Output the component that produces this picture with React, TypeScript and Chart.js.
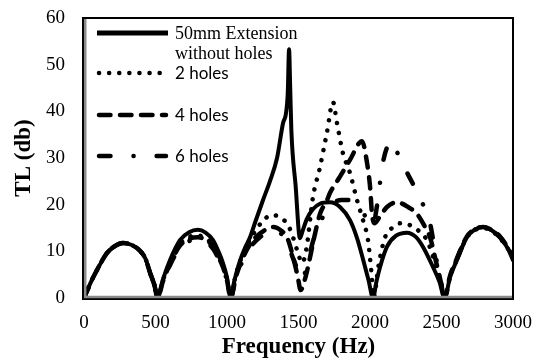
import React, { useEffect, useRef } from "react";
import { Chart, registerables } from "chart.js";

Chart.register(...registerables);

// ---- data (frequency in Hz, TL in dB) ----
const solidFreq = [0, 45, 91, 160, 215, 273, 330, 392, 430, 462, 492, 515, 550, 601, 671, 735, 797, 850, 902, 940, 972, 1000, 1025, 1050, 1091, 1130, 1161, 1200, 1252, 1300, 1350, 1392, 1412, 1425, 1434, 1442, 1450, 1480, 1510, 1530, 1558, 1600, 1650, 1720, 1790, 1860, 1910, 1953, 1990, 2021, 2045, 2070, 2119, 2180, 2259, 2320, 2370, 2441, 2485, 2522, 2560, 2608, 2678, 2730, 2790, 2850, 2909, 2960, 3000];
const solidTL = [0, 3.2, 6, 9.6, 11.1, 11.8, 11.4, 10.1, 8.4, 5.4, 2.8, 0, 3.8, 8.1, 12.4, 14.1, 14.6, 14, 12.4, 10, 7.5, 4.4, 0, 3.5, 8, 11, 13, 16.5, 21, 25, 30, 37.5, 39.5, 44, 53.3, 45, 36, 24, 12.8, 14.5, 16.9, 19, 20.2, 20.5, 19.5, 16.7, 12.8, 8.1, 3.8, 0, 3.5, 6.6, 11, 13.3, 14, 13.1, 11, 6.6, 3.5, 0, 4.5, 8.1, 13, 14.6, 15.2, 14.5, 13, 10.8, 8.1];

const holes2Freq = [0, 45, 91, 160, 215, 273, 330, 392, 430, 462, 492, 515, 550, 601, 671, 735, 797, 850, 902, 940, 972, 1000, 1025, 1060, 1100, 1161, 1245, 1315, 1385, 1427, 1462, 1495, 1525, 1555, 1601, 1650, 1699, 1741, 1769, 1811, 1860, 1909, 1951, 1986, 2002, 2014, 2025, 2060, 2105, 2154, 2210, 2280, 2336, 2398, 2450, 2490, 2522, 2560, 2608, 2678, 2730, 2790, 2850, 2909, 2960, 3000];
const holes2TL = [0, 3.2, 6, 9.6, 11.1, 11.8, 11.4, 10.1, 8.4, 5.4, 2.8, 0, 3.6, 7.6, 11.6, 13.1, 13.4, 12.8, 11.3, 9.2, 6.9, 4, 0, 4.8, 8.5, 12.5, 16.3, 17.8, 17, 15.6, 13, 9.8, 7.5, 10.5, 21.6, 28, 35.5, 42, 37.5, 31, 26.8, 21, 16.7, 12.4, 8, 4, 0, 7, 13, 15, 16, 15.6, 14.5, 12.4, 8, 4, 0, 4.5, 8.3, 13, 14.5, 15, 14.4, 12.8, 10.8, 8.5];

const holes4Freq = [0, 45, 91, 160, 215, 273, 330, 392, 430, 462, 492, 515, 550, 601, 671, 735, 797, 850, 902, 940, 972, 1000, 1025, 1060, 1100, 1161, 1230, 1322, 1380, 1420, 1462, 1495, 1515, 1540, 1566, 1610, 1650, 1700, 1720, 1790, 1860, 1944, 1979, 2000, 2014, 2030, 2070, 2119, 2189, 2266, 2329, 2380, 2420, 2460, 2495, 2522, 2560, 2608, 2678, 2730, 2790, 2850, 2909, 2960, 3000];
const holes4TL = [0, 3.2, 6, 9.6, 11.1, 11.8, 11.4, 10.1, 8.4, 5.4, 2.8, 0, 3.4, 7.3, 11.2, 12.7, 13, 12.5, 11, 8.8, 6.6, 3.8, 0, 4.3, 7.8, 11.5, 13.8, 15.2, 14.4, 13, 8.8, 4.5, 1.7, 3.5, 6.6, 13, 18, 21, 22.5, 26, 29.6, 33.6, 29, 24, 18, 16, 17.5, 19.5, 20.5, 19.5, 18, 15.5, 13, 8, 3.5, 0, 4.8, 8.5, 13.2, 14.7, 15.2, 14.6, 13.2, 11, 8.8];

const holes6Freq = [0, 45, 91, 160, 215, 273, 330, 392, 430, 462, 492, 515, 550, 601, 671, 735, 797, 850, 902, 940, 972, 1000, 1025, 1060, 1100, 1161, 1230, 1310, 1370, 1420, 1462, 1495, 1524, 1560, 1600, 1650, 1700, 1750, 1800, 1850, 1900, 1950, 1990, 2020, 2050, 2090, 2154, 2210, 2260, 2329, 2385, 2420, 2460, 2495, 2522, 2560, 2608, 2678, 2730, 2790, 2850, 2909, 2960, 3000];
const holes6TL = [0, 3.2, 6, 9.6, 11.1, 11.8, 11.4, 10.1, 8.4, 5.4, 2.8, 0, 3.3, 7, 10.8, 12.2, 12.5, 12, 10.6, 8.5, 6.4, 3.7, 0, 4, 7.3, 10.8, 13, 14.5, 14, 12, 8.5, 6, 4, 7, 12, 16, 19, 20.5, 21, 21, 20, 18.5, 16, 15.5, 20, 29, 33.6, 29.6, 26.8, 22.7, 19, 16, 9, 3.5, 0, 4.6, 8.4, 13, 14.6, 15, 14.4, 13, 10.8, 8.5];

const seriesNames = ["50mm Extension without holes", "2 holes", "4 holes", "6 holes"];
const xTitle = "Frequency (Hz)";
const yTitle = "TL (db)";

const zip = (xs: number[], ys: number[]) => xs.map((x, i) => ({ x, y: ys[i] }));

const SERIF = "'Liberation Serif', 'Times New Roman', serif";
const SANS = "Lato, 'Open Sans', sans-serif";

const frameAndLegend = {
  id: "frameAndLegend",
  afterDraw(chart: any) {
    const { ctx, chartArea } = chart;
    const { left, top, right, bottom } = chartArea;
    ctx.save();
    // frame
    ctx.strokeStyle = "#000";
    ctx.lineWidth = 2;
    ctx.strokeRect(left - 1, top, right - left + 1, bottom - top + 1);
    ctx.strokeStyle = "#8a8a8a";
    ctx.lineWidth = 2.5;
    ctx.beginPath();
    ctx.moveTo(left + 1.2, top + 1);
    ctx.lineTo(left + 1.2, bottom - 1);
    ctx.lineTo(right - 1, bottom - 1);
    ctx.stroke();

    // legend
    const x0 = left + 13;
    const x1 = left + 83;
    const samples = [
      { y: top + 15, dash: [] as number[], w: 5, cap: "butt", end: left + 84 },
      { y: top + 55, dash: [0.1, 10], w: 4.5, cap: "round", end: left + 77 },
      { y: top + 97, dash: [11.5, 9.5], w: 4.5, cap: "round", end: left + 82 },
      { y: top + 138, dash: [11.5, 23, 0.1, 23], w: 4.5, cap: "round", end: left + 82 },
    ];
    ctx.strokeStyle = "#000";
    samples.forEach((s, i) => {
      ctx.beginPath();
      ctx.lineWidth = s.w;
      ctx.lineCap = s.cap;
      ctx.setLineDash(s.dash);
      ctx.moveTo(x0 + (i === 0 ? 0 : 2), s.y);
      ctx.lineTo(s.end, s.y);
      ctx.stroke();
    });
    ctx.setLineDash([]);
    ctx.fillStyle = "#000";
    ctx.textBaseline = "middle";
    ctx.textAlign = "left";
    const tx = x1 + 8;
    ctx.font = `18px ${SERIF}`;
    ctx.fillText("50mm Extension", tx, top + 16);
    ctx.fillText("without holes", tx, top + 36);
    ctx.font = `17px ${SANS}`;
    ctx.fillText(seriesNames[1], tx, top + 56);
    ctx.fillText(seriesNames[2], tx, top + 98);
    ctx.fillText(seriesNames[3], tx, top + 139);
    ctx.restore();
  },
};

export default function App() {
  const ref = useRef<HTMLCanvasElement | null>(null);

  useEffect(() => {
    if (!ref.current) return;
    const common = {
      pointRadius: 0,
      pointHoverRadius: 0,
      borderColor: "#000",
      backgroundColor: "#000",
      fill: false,
      cubicInterpolationMode: "monotone" as const,
    };
    const chart = new Chart(ref.current, {
      type: "line",
      data: {
        datasets: [
          { ...common, label: seriesNames[0], data: zip(solidFreq, solidTL), borderWidth: 4, borderCapStyle: "round" },
          { ...common, label: seriesNames[1], data: zip(holes2Freq, holes2TL), borderWidth: 4.5, borderDash: [0.1, 10], borderCapStyle: "round" },
          { ...common, label: seriesNames[2], data: zip(holes4Freq, holes4TL), borderWidth: 4.5, borderDash: [11.5, 9.5], borderCapStyle: "round" },
          { ...common, label: seriesNames[3], data: zip(holes6Freq, holes6TL), borderWidth: 4.5, borderDash: [11.5, 23, 0.1, 23], borderCapStyle: "round" },
        ],
      },
      options: {
        animation: false,
        responsive: false,
        devicePixelRatio: 1,
        layout: { padding: { left: 0, top: 18, right: 26, bottom: 0 } },
        plugins: { legend: { display: false }, tooltip: { enabled: false } },
        scales: {
          x: {
            type: "linear",
            min: 0,
            max: 3000,
            grid: { display: false, drawTicks: false },
            border: { display: false },
            ticks: { stepSize: 500, color: "#000", padding: 14, font: { family: SERIF, size: 19 }, maxRotation: 0, callback: (v: any) => String(v) },
            title: { display: true, text: xTitle, color: "#000", padding: { top: 0, bottom: 0 }, font: { family: SERIF, size: 23, weight: "bold", lineHeight: 1 } },
            afterFit: (s: any) => { s.height = 61; s.paddingLeft = 0; s.paddingRight = 0; },
          },
          y: {
            min: 0,
            max: 60,
            grid: { display: false, drawTicks: false },
            border: { display: false },
            ticks: { stepSize: 10, color: "#000", padding: 19, font: { family: SERIF, size: 19 } },
            title: { display: true, text: yTitle, color: "#000", padding: { top: 12.5, bottom: 0 }, font: { family: SERIF, size: 23, weight: "bold", lineHeight: 1 } },
            afterFit: (s: any) => { s.width = 84; s.paddingTop = 0; s.paddingBottom = 0; },
          },
        },
      },
      plugins: [frameAndLegend],
    });
    return () => chart.destroy();
  }, []);

  return (
    <div style={{ position: "fixed", left: 0, top: 0, width: 539, height: 359, background: "#fff" }}>
      <canvas ref={ref} width={539} height={359} style={{ display: "block" }} />
    </div>
  );
}
